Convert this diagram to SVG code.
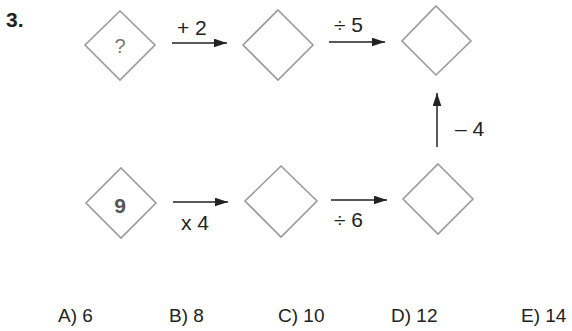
<svg xmlns="http://www.w3.org/2000/svg" width="572" height="331" viewBox="0 0 572 331">
<style>
.d{fill:none;stroke:#9a9a9a;stroke-width:1.6}
.t{font-family:"Liberation Sans",Arial,sans-serif;fill:#222}
.l{font-size:21px}
.a{font-size:19px}
.c{stroke:#222;stroke-width:1.5;fill:none}
</style>
<defs>
<marker id="ah" viewBox="0 0 12 8" refX="12" refY="4" markerWidth="13" markerHeight="9" markerUnits="userSpaceOnUse" orient="auto">
<path d="M0,0 L12,4 L0,8 Z" fill="#222"/>
</marker>
</defs>
<text class="t" x="6" y="27" font-size="21" font-weight="bold">3.</text>
<g id="n1"><path class="d" d="M120,11 L155,45 L120,80 L85,45 Z"/><text class="t" x="120" y="53" font-size="20" text-anchor="middle" style="fill:#777">?</text></g>
<g id="n2"><path class="d" d="M278,10 L313,45 L278,80 L243,45 Z"/></g>
<g id="n3"><path class="d" d="M436,6 L471,41 L436,75 L402,41 Z"/></g>
<g id="n4"><path class="d" d="M121,168 L156,203 L121,238 L86,203 Z"/><text class="t" x="120" y="213" font-size="21" font-weight="bold" text-anchor="middle" style="fill:#555">9</text></g>
<g id="n5"><path class="d" d="M281,166 L317,201 L281,237 L245,201 Z"/></g>
<g id="n6"><path class="d" d="M438,164 L473,199 L438,234 L403,199 Z"/></g>
<g id="connectors">
<line class="c" x1="172" y1="43" x2="227" y2="43" marker-end="url(#ah)"/>
<line class="c" x1="329" y1="42" x2="385" y2="42" marker-end="url(#ah)"/>
<line class="c" x1="437" y1="147" x2="437" y2="93" marker-end="url(#ah)"/>
<line class="c" x1="173" y1="202" x2="228" y2="202" marker-end="url(#ah)"/>
<line class="c" x1="331" y1="200" x2="387" y2="200" marker-end="url(#ah)"/>
</g>
<text class="t l" x="177" y="35">+ 2</text>
<text class="t l" x="334" y="32">÷ 5</text>
<text class="t l" x="455" y="136">– 4</text>
<text class="t l" x="181" y="230">x 4</text>
<text class="t l" x="334" y="227">÷ 6</text>
<text class="t a" x="58" y="322">A) 6</text>
<text class="t a" x="169" y="322">B) 8</text>
<text class="t a" x="278" y="322">C) 10</text>
<text class="t a" x="391" y="322">D) 12</text>
<text class="t a" x="521" y="322">E) 14</text>
</svg>
